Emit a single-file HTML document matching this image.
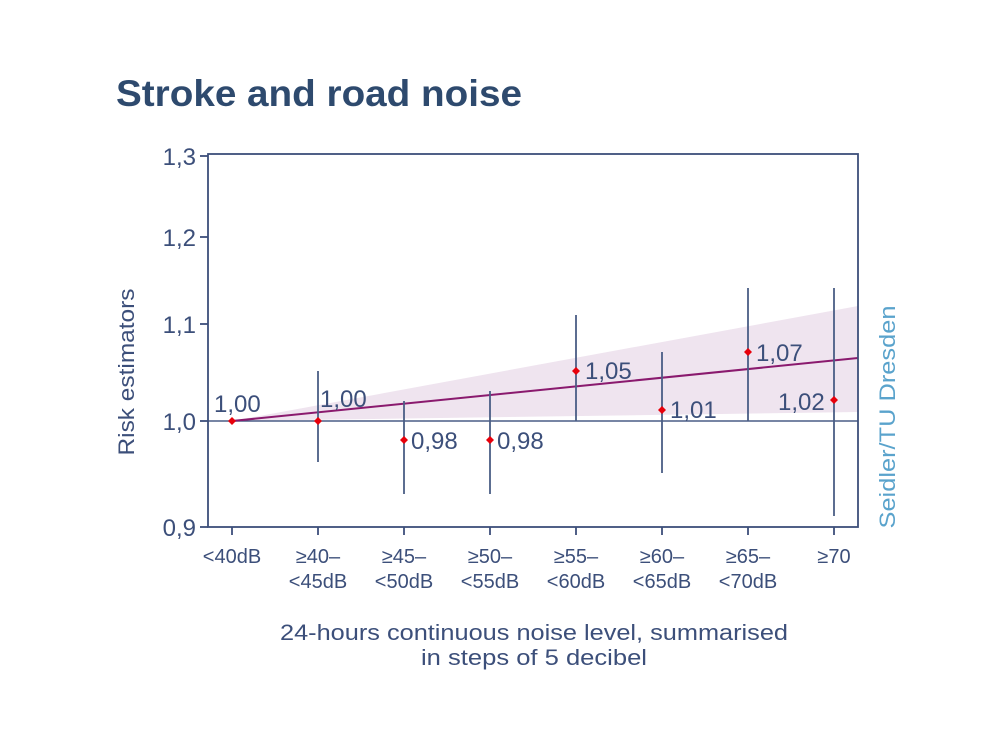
<!DOCTYPE html>
<html><head><meta charset="utf-8"><style>
html,body{margin:0;padding:0;background:#fff;width:1000px;height:750px;overflow:hidden}
svg{display:block}
text{font-family:"Liberation Sans","DejaVu Sans",sans-serif}
</style></head><body>
<svg width="1000" height="750" viewBox="0 0 1000 750">
<text x="116" y="106" font-size="37" font-weight="bold" fill="#2e4a6e" textLength="406" lengthAdjust="spacingAndGlyphs">Stroke and road noise</text>
<polygon points="232,421 858,306 858,412" fill="#efe4ef"/>
<line x1="208" y1="421" x2="858" y2="421" stroke="#4a5d85" stroke-width="1.5"/>
<line x1="232" y1="421" x2="858" y2="358" stroke="#8a1a6e" stroke-width="2"/>
<rect x="208" y="154" width="650" height="373" fill="none" stroke="#3c4f7a" stroke-width="1.8"/>
<g stroke="#3c4f7a" stroke-width="1.8">
<line x1="200" y1="156" x2="208" y2="156"/><line x1="200" y1="237" x2="208" y2="237"/>
<line x1="200" y1="324" x2="208" y2="324"/><line x1="200" y1="421" x2="208" y2="421"/>
<line x1="200" y1="527" x2="208" y2="527"/>
<line x1="232" y1="527" x2="232" y2="535"/><line x1="318" y1="527" x2="318" y2="535"/>
<line x1="404" y1="527" x2="404" y2="535"/><line x1="490" y1="527" x2="490" y2="535"/>
<line x1="576" y1="527" x2="576" y2="535"/><line x1="662" y1="527" x2="662" y2="535"/>
<line x1="748" y1="527" x2="748" y2="535"/><line x1="834" y1="527" x2="834" y2="535"/>
</g>
<g stroke="#4a5d85" stroke-width="1.8">
<line x1="318" y1="371" x2="318" y2="462"/><line x1="404" y1="401" x2="404" y2="494"/>
<line x1="490" y1="391" x2="490" y2="494"/><line x1="576" y1="315" x2="576" y2="421"/>
<line x1="662" y1="352" x2="662" y2="473"/><line x1="748" y1="288" x2="748" y2="421"/>
<line x1="834" y1="288" x2="834" y2="516"/>
</g>
<g fill="#e8000b">
<path d="M232,417 l4,4 l-4,4 l-4,-4z"/><path d="M318,417 l4,4 l-4,4 l-4,-4z"/>
<path d="M404,436 l4,4 l-4,4 l-4,-4z"/><path d="M490,436 l4,4 l-4,4 l-4,-4z"/>
<path d="M576,367 l4,4 l-4,4 l-4,-4z"/><path d="M662,406 l4,4 l-4,4 l-4,-4z"/>
<path d="M748,348 l4,4 l-4,4 l-4,-4z"/><path d="M834,396 l4,4 l-4,4 l-4,-4z"/>
</g>
<g font-size="24" fill="#3c4f7a">
<text x="214" y="412">1,00</text><text x="320" y="407">1,00</text>
<text x="411" y="449">0,98</text><text x="497" y="449">0,98</text>
<text x="585" y="379">1,05</text><text x="670" y="418">1,01</text>
<text x="756" y="361">1,07</text><text x="778" y="410">1,02</text>
</g>
<g font-size="24" fill="#3c4f7a" text-anchor="end">
<text x="196" y="165">1,3</text><text x="196" y="246">1,2</text>
<text x="196" y="333">1,1</text><text x="196" y="430">1,0</text>
<text x="196" y="536">0,9</text>
</g>
<g font-size="20" fill="#3c4f7a" text-anchor="middle">
<text x="232" y="563">&lt;40dB</text>
<text x="318" y="563">≥40–</text><text x="318" y="588">&lt;45dB</text>
<text x="404" y="563">≥45–</text><text x="404" y="588">&lt;50dB</text>
<text x="490" y="563">≥50–</text><text x="490" y="588">&lt;55dB</text>
<text x="576" y="563">≥55–</text><text x="576" y="588">&lt;60dB</text>
<text x="662" y="563">≥60–</text><text x="662" y="588">&lt;65dB</text>
<text x="748" y="563">≥65–</text><text x="748" y="588">&lt;70dB</text>
<text x="834" y="563">≥70</text>
<text x="534" y="640" font-size="22" textLength="508" lengthAdjust="spacingAndGlyphs">24-hours continuous noise level, summarised</text>
<text x="534" y="665" font-size="22" textLength="226" lengthAdjust="spacingAndGlyphs">in steps of 5 decibel</text>
</g>
<text transform="translate(134,372) rotate(-90)" font-size="22" fill="#3c4f7a" text-anchor="middle" textLength="167" lengthAdjust="spacingAndGlyphs">Risk estimators</text>
<text transform="translate(895,417) rotate(-90)" font-size="22" fill="#5aa3cc" text-anchor="middle" textLength="223" lengthAdjust="spacingAndGlyphs">Seidler/TU Dresden</text>
</svg>
</body></html>
